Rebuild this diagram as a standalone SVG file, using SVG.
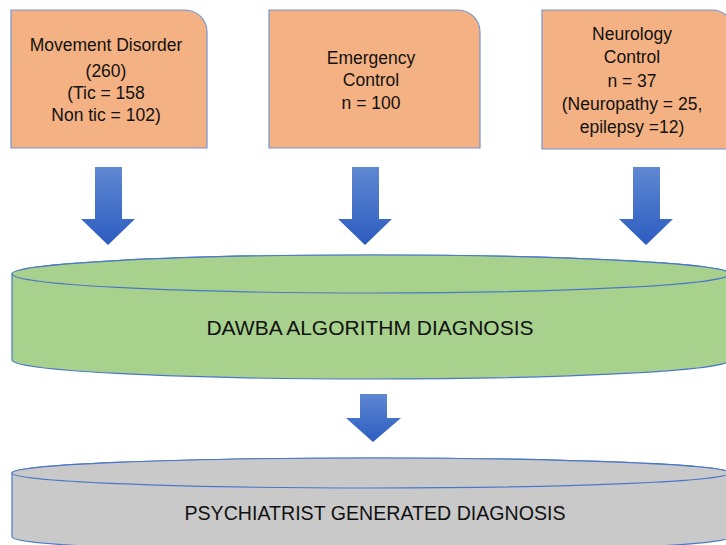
<svg xmlns="http://www.w3.org/2000/svg" width="726" height="545" viewBox="0 0 726 545">
<defs>
<linearGradient id="ag" x1="0" y1="0" x2="0" y2="1">
<stop offset="0" stop-color="#5f88d2"/>
<stop offset="1" stop-color="#2c5cc0"/>
</linearGradient>
<style>
.box{fill:#F4B183;stroke:#7096d6;stroke-width:1.2}
.t{font-family:"Liberation Sans",Arial,sans-serif;font-size:17.5px;fill:#111;text-anchor:middle}
.big{font-family:"Liberation Sans",Arial,sans-serif;font-size:21px;fill:#111;text-anchor:middle}
.big2{font-family:"Liberation Sans",Arial,sans-serif;font-size:19.6px;fill:#111;text-anchor:middle}
.arr{fill:url(#ag)}
.cyl{stroke:#4a78c8;stroke-width:1.2}
</style>
</defs>
<rect width="726" height="545" fill="#fff"/>
<g id="movement">
<path class="box" d="M11,10 H185 A22,22 0 0 1 207,32 V148 H11 Z"/>
<text class="t" x="106" y="51">Movement Disorder</text>
<text class="t" x="106" y="77">(260)</text>
<text class="t" x="106" y="99">(Tic  = 158</text>
<text class="t" x="106" y="121">Non tic = 102)</text>
</g>
<g id="emergency">
<path class="box" d="M269,10 H458 A22,22 0 0 1 480,32 V148 H269 Z"/>
<text class="t" x="371" y="64">Emergency</text>
<text class="t" x="371" y="86">Control</text>
<text class="t" x="371" y="109">n = 100</text>
</g>
<g id="neurology">
<path class="box" d="M542,10 H712 A22,22 0 0 1 734,32 V149 H542 Z"/>
<text class="t" x="632" y="40">Neurology</text>
<text class="t" x="632" y="63">Control</text>
<text class="t" x="632" y="87">n = 37</text>
<text class="t" x="632" y="110">(Neuropathy = 25,</text>
<text class="t" x="632" y="133">epilepsy =12)</text>
</g>
<g id="connectors">
<path class="arr" d="M95,167 H122 V219 H135 L108,245 L81,219 H95 Z"/>
<path class="arr" d="M352,167 H379 V219 H392 L365,245 L338,219 H352 Z"/>
<path class="arr" d="M633,167 H660 V219 H673 L646,245 L619,219 H633 Z"/>
<path class="arr" d="M360,394 H387 V418 H401 L373,442 L346,418 H360 Z"/>
</g>
<g id="dawba">
<path class="cyl" fill="#A9D18E" d="M12,274 A359,19 0 0 1 730,274 V360 A359,19 0 0 1 12,360 Z"/>
<ellipse class="cyl" fill="#A9D18E" cx="371" cy="274" rx="359" ry="19"/>
<text class="big" x="370" y="335">DAWBA ALGORITHM DIAGNOSIS</text>
</g>
<g id="psychiatrist">
<path class="cyl" fill="#C9C9C9" d="M12,473 A359,15 0 0 1 730,473 V537 A359,15 0 0 1 12,537 Z"/>
<ellipse class="cyl" fill="#C9C9C9" cx="371" cy="473" rx="359" ry="15"/>
<text class="big2" x="375" y="520">PSYCHIATRIST GENERATED DIAGNOSIS</text>
</g>
</svg>
